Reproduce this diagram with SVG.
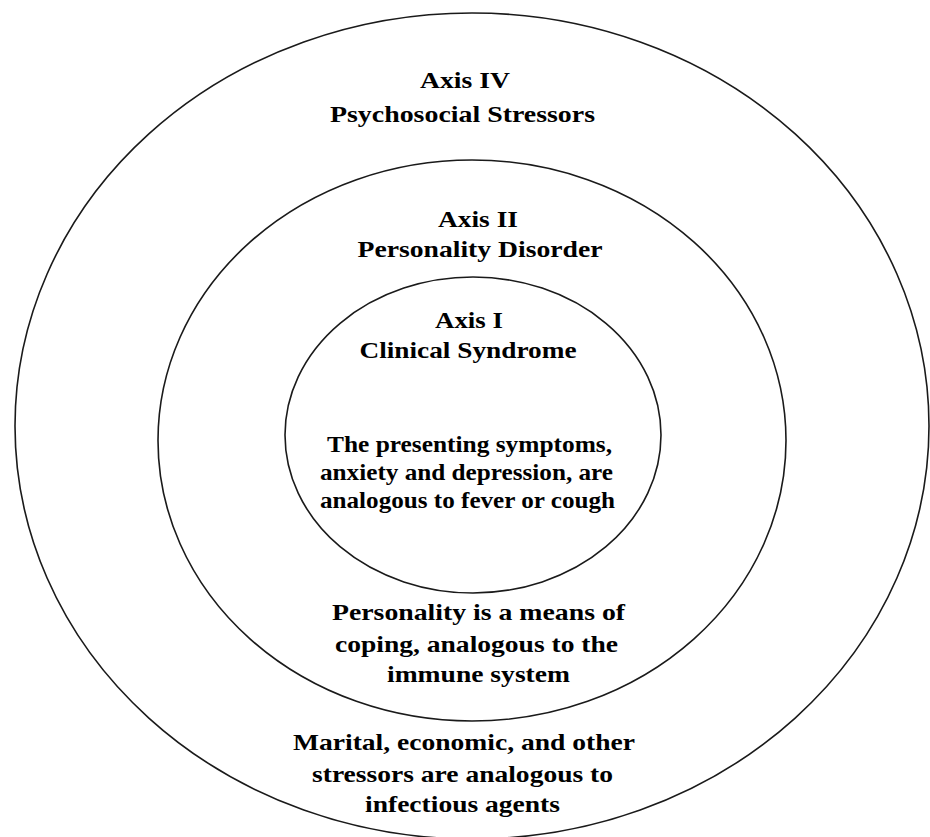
<svg xmlns="http://www.w3.org/2000/svg" width="930" height="837" viewBox="0 0 930 837">
  <style>
    .ring { fill: none; stroke: #1a1a1a; stroke-width: 1.6; }
    .lbl { font-family: "Liberation Serif", "Times New Roman", serif; font-weight: bold; font-size: 24px; fill: #000; text-anchor: middle; }
  </style>
  <rect width="930" height="837" fill="#ffffff"/>

  <!-- Axis IV: outermost ring -->
  <g id="axis-iv">
    <ellipse class="ring" cx="472" cy="426" rx="457" ry="413"/>
    <text class="lbl" x="465" y="88" textLength="90" lengthAdjust="spacingAndGlyphs">Axis IV</text>
    <text class="lbl" x="462.5" y="122" textLength="265" lengthAdjust="spacingAndGlyphs">Psychosocial Stressors</text>
    <text class="lbl" x="464" y="750" textLength="342" lengthAdjust="spacingAndGlyphs">Marital, economic, and other</text>
    <text class="lbl" x="462.5" y="782" textLength="301" lengthAdjust="spacingAndGlyphs">stressors are analogous to</text>
    <text class="lbl" x="462.5" y="812" textLength="195" lengthAdjust="spacingAndGlyphs">infectious agents</text>
  </g>

  <!-- Axis II: middle ring -->
  <g id="axis-ii">
    <ellipse class="ring" cx="472" cy="440.5" rx="314" ry="280.5"/>
    <text class="lbl" x="478" y="227" textLength="80" lengthAdjust="spacingAndGlyphs">Axis II</text>
    <text class="lbl" x="480" y="257" textLength="245" lengthAdjust="spacingAndGlyphs">Personality Disorder</text>
    <text class="lbl" x="478.5" y="620" textLength="293" lengthAdjust="spacingAndGlyphs">Personality is a means of</text>
    <text class="lbl" x="476.5" y="652" textLength="283" lengthAdjust="spacingAndGlyphs">coping, analogous to the</text>
    <text class="lbl" x="478.5" y="682" textLength="183" lengthAdjust="spacingAndGlyphs">immune system</text>
  </g>

  <!-- Axis I: inner ring -->
  <g id="axis-i">
    <ellipse class="ring" cx="473" cy="435" rx="188" ry="158"/>
    <text class="lbl" x="469" y="328" textLength="68" lengthAdjust="spacingAndGlyphs">Axis I</text>
    <text class="lbl" x="468" y="358" textLength="217" lengthAdjust="spacingAndGlyphs">Clinical Syndrome</text>
    <text class="lbl" x="469.5" y="452" textLength="285" lengthAdjust="spacingAndGlyphs">The presenting symptoms,</text>
    <text class="lbl" x="466.5" y="480" textLength="293" lengthAdjust="spacingAndGlyphs">anxiety and depression, are</text>
    <text class="lbl" x="467.5" y="508" textLength="295" lengthAdjust="spacingAndGlyphs">analogous to fever or cough</text>
  </g>
</svg>
